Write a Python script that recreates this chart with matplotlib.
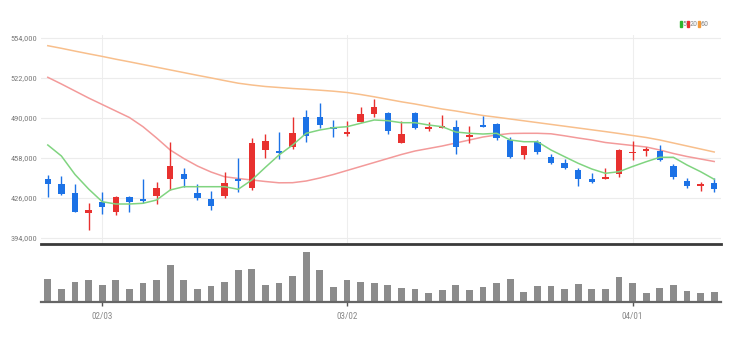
import matplotlib
matplotlib.use("Agg")
import matplotlib.pyplot as plt
from matplotlib import font_manager
from matplotlib.patches import Rectangle
import numpy as np

# daily candles, 50 sessions
opens = [440960, 437000, 429800, 414200, 423000, 415000, 427000, 425000, 427800, 441000,
         445000, 430200, 425000, 427800, 441000, 433700, 464400, 463600, 467000, 491000,
         491000, 482600, 477200, 487200, 493400, 493800, 470200, 494200, 481400, 482200,
         483000, 475000, 484400, 484900, 472800, 460400, 471000, 458600, 454200, 448400,
         441000, 441200, 445200, 461800, 463800, 463800, 451600, 439800, 435600, 438200]
highs = [444400, 443600, 437000, 421800, 431000, 427800, 427600, 441000, 438600, 470600,
         449800, 437000, 431600, 447000, 458000, 474200, 477000, 479000, 491000, 496400,
         502200, 488400, 487600, 499000, 505300, 495000, 487800, 495000, 486800, 492400,
         488400, 483600, 491600, 485800, 474600, 467800, 472400, 461400, 457000, 449800,
         446200, 450200, 465000, 471800, 467000, 468400, 453000, 441800, 439000, 441800]
lows = [427000, 428400, 414600, 400400, 413000, 412400, 415000, 422200, 421000, 432400,
        435000, 424400, 416800, 425800, 431000, 432400, 458200, 457600, 465000, 471200,
        482200, 475000, 475600, 487000, 491000, 477400, 470200, 481400, 479400, 482200,
        461300, 470200, 483000, 472400, 458000, 457600, 461400, 453000, 449000, 435600,
        438200, 441200, 443000, 456400, 459600, 455800, 441000, 433800, 431800, 431000]
closes = [437200, 429200, 415000, 416200, 419000, 426500, 422800, 423800, 434200, 451600,
          441000, 425800, 419800, 437800, 439600, 469700, 471800, 462200, 477800, 475600,
          484400, 481400, 479000, 493400, 499200, 479400, 477000, 482200, 482600, 483200,
          466600, 476400, 483000, 473800, 459000, 467800, 462500, 453800, 449800, 441000,
          439000, 442600, 464400, 462600, 465200, 456400, 442600, 435600, 436400, 433000]
# thousand shares
volumes = [117, 65, 102, 112, 87, 108, 65, 93, 108, 187,
           108, 65, 78, 102, 158, 163, 87, 93, 128, 250,
           158, 73, 112, 102, 93, 87, 70, 65, 45, 58,
           87, 58, 73, 97, 117, 50, 78, 78, 65, 90,
           65, 65, 125, 97, 43, 70, 87, 53, 43, 50]

ma5 = [468400, 459600, 444800, 433200, 423040, 421200, 421200, 421760, 424400, 432400,
       435040, 435040, 435040, 435040, 432960, 440400, 450560, 460400, 468400, 477760,
       480400, 482240, 483040, 485760, 488400, 487840, 486240, 486240, 484400, 483040,
       478800, 477760, 477200, 477760, 472400, 471040, 471040, 464400, 459040, 453760,
       449200, 445760, 447040, 451200, 455040, 458560, 458560, 452400, 447040, 440960]
ma20 = [522560, 517200, 511600, 506000, 500800, 495600, 490400, 483040, 474000, 464400,
        457600, 451600, 446800, 443040, 441600, 440400, 439200, 438160, 438240, 439600,
        442000, 444800, 448000, 451200, 454400, 457600, 460800, 463600, 465600, 467600,
        470000, 472400, 474800, 476400, 477600, 477760, 477760, 477360, 475760, 474000,
        472400, 470400, 469200, 468000, 466800, 464400, 461600, 459200, 457200, 455200]
ma60 = [547840, 545760, 543520, 541360, 539280, 537040, 534960, 532800, 530640, 528480,
        526320, 524160, 522080, 519920, 517840, 516400, 515200, 514400, 513600, 512960,
        512240, 511440, 510400, 508800, 506960, 504960, 502960, 501200, 499200, 497200,
        495600, 493760, 492000, 490640, 489200, 487760, 486320, 484880, 483440, 482000,
        480560, 479120, 477600, 476000, 474400, 472400, 470000, 467600, 465200, 462800]

date_pos = [4, 22, 43]
date_labels = ["02/03", "03/02", "04/01"]
price_ticks = [394000, 426000, 458000, 490000, 522000, 554000]
ma_names = ["5", "20", "60"]

# narrow face for the small axis labels, if one is available
installed = {f.name for f in font_manager.fontManager.ttflist}
label_font = next((f for f in ["Liberation Sans Narrow", "DejaVu Sans Condensed",
                                "Roboto Condensed", "Liberation Sans"] if f in installed),
                  "DejaVu Sans")

UP = "#e8312f"
DOWN = "#1c72e6"
ma_colors = ["#80d480", "#f39a9a", "#f8bf8c"]
legend_colors = ["#2db52d", "#e8312f", "#f39a3a"]

x = np.arange(len(opens))
o = np.array(opens)
c = np.array(closes)
col = np.where(c >= o, UP, DOWN)

fig = plt.figure(figsize=(7.36, 3.40), dpi=100)
fig.set_facecolor("white")

W, H = 736, 340
ax = fig.add_axes([41 / W, (H - 244) / H, 680 / W, 209 / H])
axv = fig.add_axes([41 / W, (H - 302) / H, 680 / W, 56 / H], sharex=ax)

# price panel
ax.vlines(x, lows, highs, colors=col, lw=1.0, zorder=3)
body = np.maximum(np.abs(c - o), 1300)
ax.bar(x, body, bottom=np.minimum(o, c), width=0.46, color=col, zorder=4)

ax.plot(x, ma60, color=ma_colors[2], lw=1.1, zorder=2)
ax.plot(x, ma20, color=ma_colors[1], lw=1.1, zorder=2)
ax.plot(x, ma5, color=ma_colors[0], lw=1.1, zorder=5)

ax.set_xlim(-0.5, len(opens) - 0.5)
ax.set_ylim(389200, 556400)
ax.set_yticks(price_ticks)
ax.set_yticklabels([f"{p:,}" for p in price_ticks])
ax.set_xticks(date_pos)
ax.grid(axis="y", color="#ececec", lw=0.8, zorder=0)
ax.grid(axis="x", color="#eeeeee", lw=0.8, zorder=0)
ax.tick_params(axis="y", length=0, pad=2.5, labelsize=6.0, labelcolor="#7a7a7a")
ax.tick_params(axis="x", length=0, labelbottom=False)
for t in ax.get_yticklabels():
    t.set_family(label_font)
for s in ["top", "right", "left"]:
    ax.spines[s].set_visible(False)
ax.spines["bottom"].set_color("#3a3a3a")
ax.spines["bottom"].set_linewidth(2.0)

# volume panel
axv.bar(x, volumes, width=0.5, color="#8c8c8c", zorder=2)
axv.set_ylim(0, 280)
axv.set_yticks([])
axv.set_xticks(date_pos)
axv.set_xticklabels(date_labels)
axv.tick_params(axis="x", length=3, width=1, color="#555555", pad=4,
                labelsize=6.6, labelcolor="#8a8a8a")
for t in axv.get_xticklabels():
    t.set_family(label_font)
for s in ["top", "right", "left"]:
    axv.spines[s].set_visible(False)
axv.spines["bottom"].set_color("#666666")
axv.spines["bottom"].set_linewidth(1.6)
axv.set_facecolor("none")

# moving-average key in the top right corner
kx = [679.5, 687, 697.5]
tx = [682.3, 689.8, 700.3]
for k in range(3):
    fig.patches.append(Rectangle((kx[k] / W, (H - 27) / H), 2.2 / W, 6 / H,
                                 transform=fig.transFigure, color=legend_colors[k]))
    fig.text(tx[k] / W, (H - 24) / H, ma_names[k], fontsize=5.8, color="#8a8a8a",
             family=label_font, va="center", ha="left")

fig.savefig("out.png", dpi=100, facecolor="white")
